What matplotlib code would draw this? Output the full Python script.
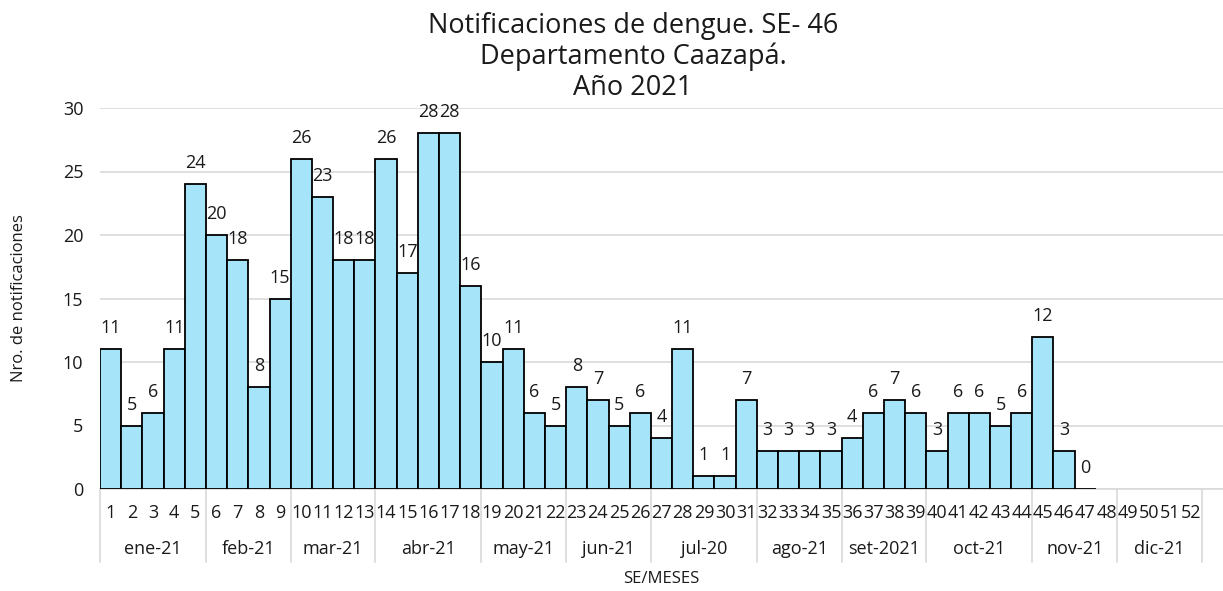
import matplotlib
matplotlib.use("Agg")
import matplotlib.pyplot as plt
import matplotlib.transforms as mtransforms

plt.rcParams['font.family'] = ['Open Sans', 'DejaVu Sans']

weeks = list(range(1, 53))
values = [11, 5, 6, 11, 24, 20, 18, 8, 15, 26, 23, 18, 18, 26, 17, 28, 28, 16,
          10, 11, 6, 5, 8, 7, 5, 6, 4, 11, 1, 1, 7, 3, 3, 3, 3, 4, 6, 7, 6,
          3, 6, 6, 5, 6, 12, 3, 0]
months = ['ene-21', 'feb-21', 'mar-21', 'abr-21', 'may-21', 'jun-21', 'jul-20',
          'ago-21', 'set-2021', 'oct-21', 'nov-21', 'dic-21']
month_weeks = [5, 4, 4, 5, 4, 4, 5, 4, 4, 5, 4, 4]
title_lines = ["Notificaciones de dengue. SE- 46", "Departamento Caazapá.", "Año 2021"]

TXT = '#1a1a1a'
W, H = 1223, 591
fig = plt.figure(figsize=(W / 100, H / 100), dpi=100)
ax = fig.add_axes([100 / W, 1 - 489 / H, 1 - 100 / W, (489 - 108) / H])

xs = weeks[:len(values)]
ax.bar(xs, values, width=1.0, color='#A6E4FA', edgecolor='black', linewidth=1.3, zorder=3)
for x, v in zip(xs, values):
    ax.annotate(str(v), (x, v), xytext=(0, 11.5), textcoords='offset points',
                ha='center', va='baseline', fontsize=13, color=TXT, zorder=4)

ax.set_xlim(0.5, 53.5)
ax.set_ylim(0, 30)
ax.set_yticks(range(0, 31, 5))
ax.tick_params(axis='y', length=0, pad=12, labelsize=13, labelcolor=TXT)
ax.set_xticks([])
ax.grid(axis='y', color='#D9D9D9', linewidth=1.2, zorder=0)
for s in ['top', 'right', 'left']:
    ax.spines[s].set_visible(False)
ax.spines['bottom'].set_color('#D9D9D9')
ax.spines['bottom'].set_linewidth(1.2)

trans = mtransforms.blended_transform_factory(ax.transData, ax.transAxes)
axh = 489 - 108
y_week = -(513 - 489) / axh
y_month = -(549 - 489) / axh
y_sep = -(562 - 489) / axh

for w in weeks:
    ax.text(w, y_week, str(w), transform=trans, ha='center', va='center',
            fontsize=13, color=TXT)

start = 0
bounds = [0]
for m, n in zip(months, month_weeks):
    ax.text(start + n / 2 + 0.5, y_month, m, transform=trans, ha='center', va='center',
            fontsize=13, color=TXT)
    start += n
    bounds.append(start)
for b in bounds:
    ax.plot([b + 0.5, b + 0.5], [0, y_sep], transform=trans, color='#D9D9D9',
            linewidth=1.2, clip_on=False)

fig.text(661 / W, 1 - 579 / H, 'SE/MESES', ha='center', va='center', fontsize=12, color=TXT)
fig.text(19 / W, 1 - 298 / H, 'Nro. de notificaciones', rotation=90, ha='center', va='center',
         fontsize=12, color=TXT)
for line, yb in zip(title_lines, [33, 64, 95]):
    fig.text(633 / W, 1 - yb / H, line, ha='center', va='baseline', fontsize=19.5, color=TXT)

fig.savefig('out.png', dpi=100)
